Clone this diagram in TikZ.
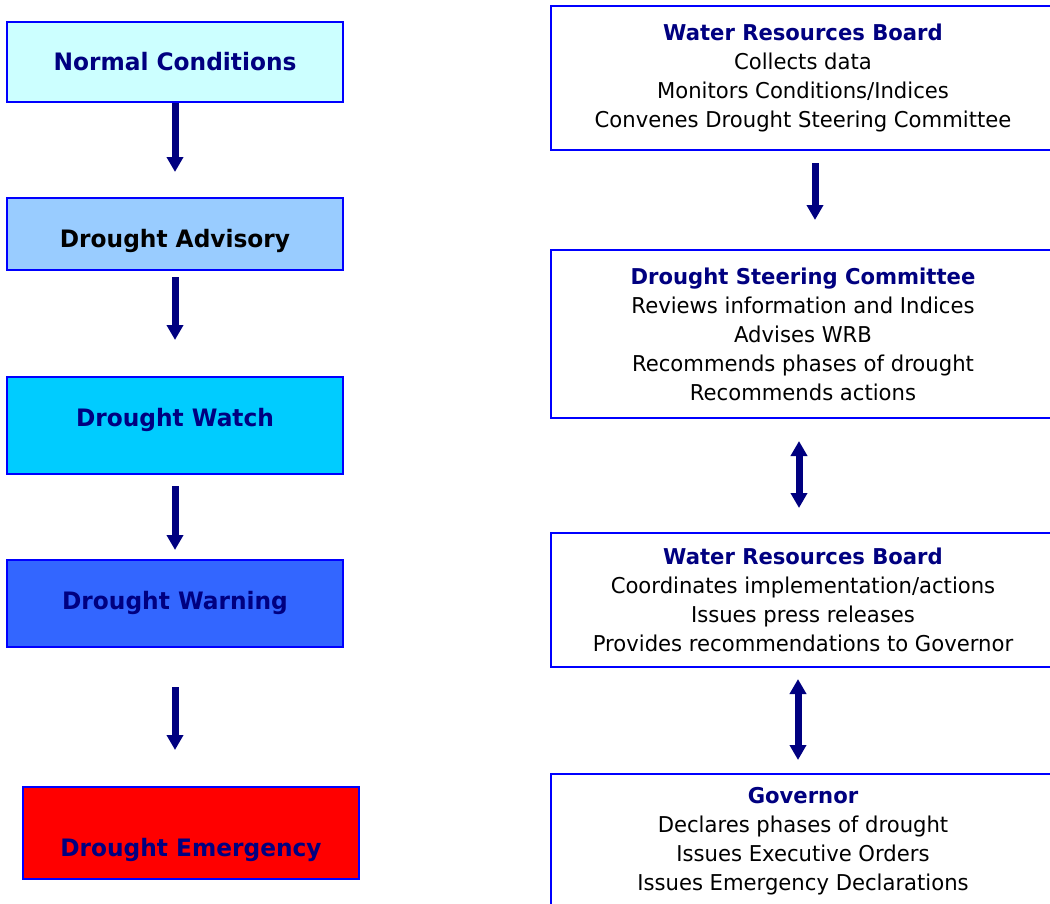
\documentclass[tikz,border=0pt]{standalone}
\usepackage{fontspec}
\setmainfont{DejaVu Sans}[FakeStretch=0.97]
\usepackage{xcolor}
\usepackage{tikz}
\usetikzlibrary{arrows.meta}

\definecolor{navy}{HTML}{000080}
\definecolor{normalfill}{HTML}{CCFFFF}
\definecolor{advisoryfill}{HTML}{99CCFF}
\definecolor{watchfill}{HTML}{00CCFF}
\definecolor{warningfill}{HTML}{3366FF}

\begin{document}
\begin{tikzpicture}[x=1pt, y=-1pt,
    phase/.style={rectangle, draw=blue, line width=2pt, minimum width=336pt, text=navy,
        font=\fontsize{24}{29}\selectfont\bfseries, text height=17.5pt, text depth=0pt},
    panel/.style={rectangle, draw=blue, line width=2pt, minimum width=504pt, align=center,
        font=\fontsize{21.8}{29}\selectfont},
    arrow/.style={-{Triangle[width=16pt,length=15pt]}, line width=7pt, navy},
    twoway/.style={{Triangle[width=16pt,length=15pt]}-{Triangle[width=16pt,length=15pt]}, line width=7pt, navy}
]
    \useasboundingbox (0,0) rectangle (1050,903);
    \clip (0,0) rectangle (1050,903);

    % drought phases
    \node[phase, fill=normalfill, minimum height=80pt] (normal) at (175,62) {Normal Conditions};
    \node[phase, fill=advisoryfill, minimum height=72pt, text=black, text height=27.5pt] (advisory) at (175,234) {Drought Advisory};
    \node[phase, fill=watchfill, minimum height=97pt, text depth=16pt] (watch) at (175,425.5) {Drought Watch};
    \node[phase, fill=warningfill, minimum height=87pt, text depth=5pt] (warning) at (175,603.5) {Drought Warning};
    \node[phase, fill=red, minimum height=92pt, text height=47.5pt] (emergency) at (191,833) {Drought Emergency};

    \draw[arrow, shorten >=25pt] (normal.south) -- (advisory.north);
    \draw[arrow, shorten <=6pt, shorten >=36pt] (advisory.south) -- (watch.north);
    \draw[arrow, shorten <=11pt, shorten >=9pt] (watch.south) -- (warning.north);
    \draw[arrow, shorten <=39pt, shorten >=36pt] (warning.south) -- (warning.south |- emergency.north);

    % who does what
    \node[panel, minimum height=144pt] (wrbCollect) at (803,78)
        {\textcolor{navy}{\bfseries Water Resources Board}\\Collects data\\Monitors Conditions/Indices\\Convenes Drought Steering Committee};
    \node[panel, minimum height=168pt] (dsc) at (803,334)
        {\textcolor{navy}{\bfseries Drought Steering Committee}\\Reviews information and Indices\\Advises WRB\\Recommends phases of drought\\Recommends actions};
    \node[panel, minimum height=134pt] (wrbCoord) at (803,600)
        {\textcolor{navy}{\bfseries Water Resources Board}\\Coordinates implementation/actions\\Issues press releases\\Provides recommendations to Governor};
    \node[panel, minimum height=134pt, anchor=north] (governor) at (803,773)
        {\textcolor{navy}{\bfseries Governor}\\Declares phases of drought\\Issues Executive Orders\\Issues Emergency Declarations};

    \draw[arrow, shorten <=12pt, shorten >=29pt] ([xshift=12pt]wrbCollect.south) -- ([xshift=12pt]dsc.north);
    \draw[twoway, shorten <=22pt, shorten >=24pt] ([xshift=-4pt]dsc.south) -- ([xshift=-4pt]wrbCoord.north);
    \draw[twoway, shorten <=11pt, shorten >=13pt] ([xshift=-5pt]wrbCoord.south) -- ([xshift=-5pt]governor.north);
\end{tikzpicture}
\end{document}
